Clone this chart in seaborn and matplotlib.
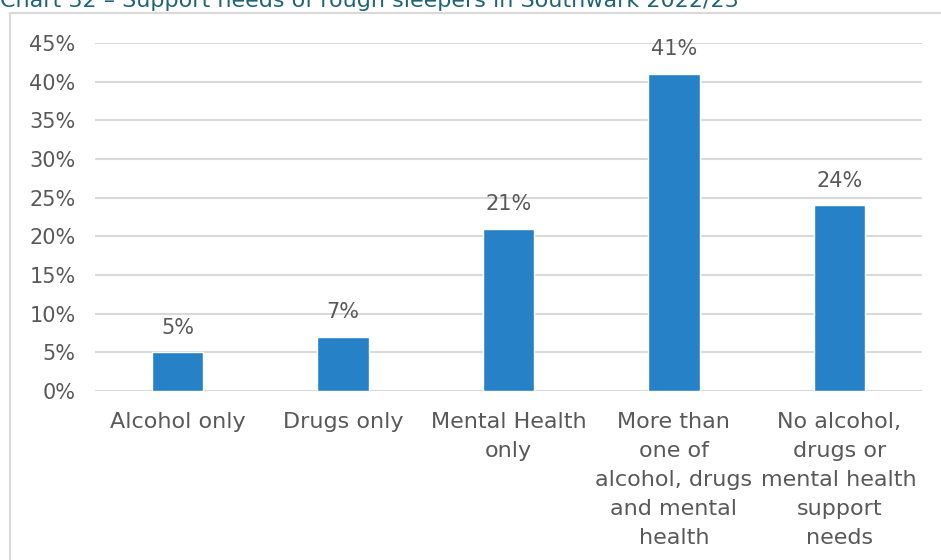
import matplotlib
matplotlib.use("Agg")
import matplotlib.pyplot as plt
import seaborn as sns
import pandas as pd
from matplotlib.lines import Line2D
from matplotlib.ticker import FuncFormatter, MultipleLocator

categories = [
    "Alcohol only",
    "Drugs only",
    "Mental Health\nonly",
    "More than\none of\nalcohol, drugs\nand mental\nhealth",
    "No alcohol,\ndrugs or\nmental health\nsupport\nneeds",
]
shares = [5, 7, 21, 41, 24]
title = "Chart 32 \u2013 Support needs of rough sleepers in Southwark 2022/23"

sns.set_theme(style="white")
plt.rcParams["font.family"] = ["DejaVu Sans"]

text_grey = "#595959"
bar_blue = "#2681C6"
grid_grey = "#D9D9D9"

df = pd.DataFrame({"category": categories, "share": shares})

fig = plt.figure(figsize=(9.41, 5.6), dpi=100)
ax = fig.add_axes([95 / 941, 1 - 391 / 560, (922 - 95) / 941, (391 - 43) / 560])

sns.barplot(data=df, x="category", y="share", color=bar_blue, width=0.31,
            saturation=1, ax=ax, zorder=3)

ax.set_ylim(0, 45)
ax.yaxis.set_major_locator(MultipleLocator(5))
ax.yaxis.set_major_formatter(FuncFormatter(lambda v, _: f"{v:.0f}%"))
ax.grid(axis="y", color=grid_grey, linewidth=1.5, zorder=0)
ax.set_axisbelow(True)
for s in ax.spines.values():
    s.set_visible(False)
ax.set_xlabel("")
ax.set_ylabel("")
ax.tick_params(axis="y", length=0, pad=14, labelsize=15, labelcolor=text_grey)
ax.tick_params(axis="x", length=0, pad=15, labelsize=16, labelcolor=text_grey)
for lbl in ax.get_xticklabels():
    lbl.set_linespacing(1.57)
    lbl.set_verticalalignment("top")

for i, v in enumerate(shares):
    ax.annotate(f"{v}%", (i, v), xytext=(0, 10.5), textcoords="offset points",
                ha="center", va="bottom", fontsize=15, color=text_grey)

# chart frame (top and left edges visible)
fig.add_artist(Line2D([10 / 941, 10 / 941], [0, 1 - 13 / 560],
                      transform=fig.transFigure, color=grid_grey, linewidth=1.5))
fig.add_artist(Line2D([10 / 941, 1], [1 - 13 / 560, 1 - 13 / 560],
                      transform=fig.transFigure, color=grid_grey, linewidth=1.5))

fig.text(0.0, 1 - 7 / 560, title, ha="left", va="baseline", fontsize=16,
         color="#1F6479")

fig.savefig("out.png", dpi=100)
